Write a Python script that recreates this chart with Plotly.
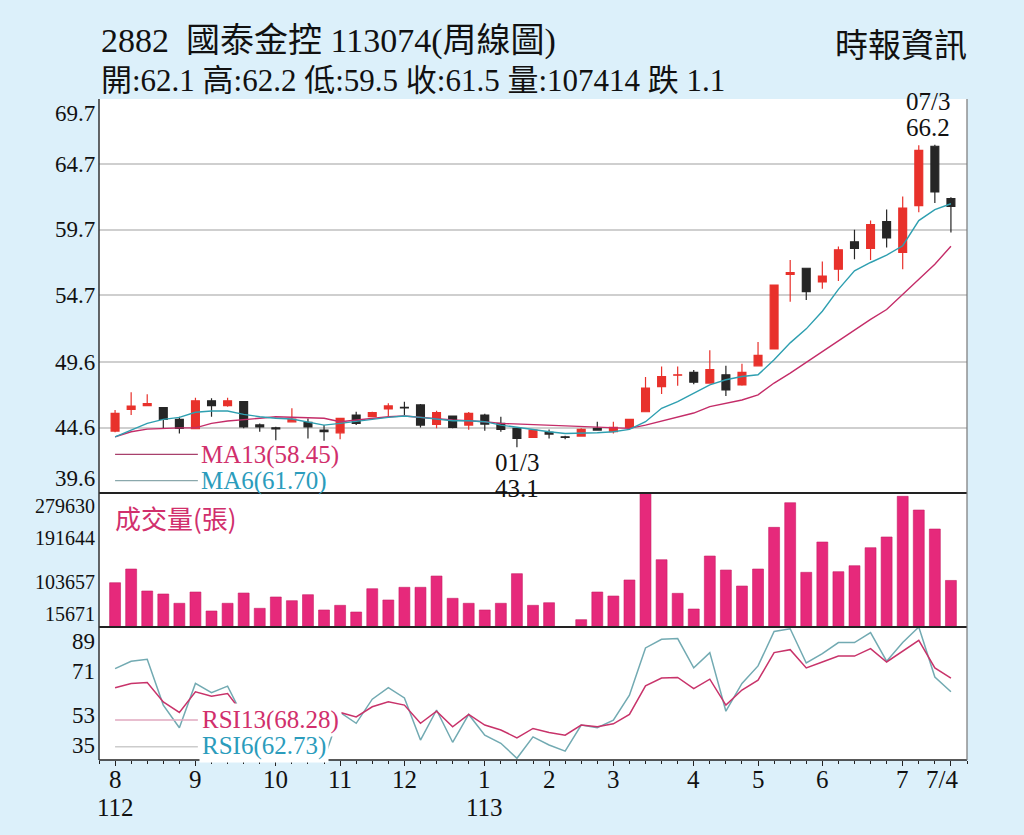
import plotly.graph_objects as go
from plotly.subplots import make_subplots

# weekly bars, oldest first (112/8 ... 113/7/4)
weeks = list(range(53))
opens = [44.33, 45.99, 46.27, 46.12, 45.23, 44.51, 46.64, 46.27, 46.58, 44.80,
         44.58, 45.04, 45.00, 44.41, 44.20, 45.56, 45.43, 46.02, 46.15, 46.33,
         44.84, 45.48, 44.79, 45.56, 44.92, 44.54, 43.85, 44.23, 43.90, 43.95,
         44.54, 44.28, 44.61, 45.81, 47.73, 48.60, 48.81, 48.00, 48.63, 47.86,
         49.32, 50.61, 56.31, 56.77, 55.72, 56.70, 58.79, 58.29, 60.33, 57.98,
         61.56, 66.09, 62.1]
highs = [45.94, 47.30, 47.15, 46.15, 45.43, 46.87, 46.84, 46.87, 46.60, 44.92,
         44.66, 46.07, 45.30, 44.80, 45.31, 45.80, 45.81, 46.46, 46.58, 46.40,
         45.89, 45.50, 45.79, 45.66, 45.43, 44.56, 44.41, 44.46, 43.97, 44.54,
         45.05, 45.05, 45.23, 48.46, 49.27, 49.27, 49.00, 50.50, 49.32, 49.47,
         51.14, 55.49, 57.41, 56.80, 57.29, 58.44, 59.71, 60.41, 61.25, 62.25,
         66.17, 66.2, 62.2]
lows = [44.25, 45.56, 46.27, 44.54, 44.15, 44.51, 45.43, 46.20, 44.54, 44.28,
        43.64, 45.04, 43.77, 43.60, 43.70, 44.80, 45.43, 45.38, 45.56, 44.60,
        44.54, 44.54, 44.44, 44.36, 44.28, 43.1, 43.85, 43.77, 43.70, 43.95,
        44.41, 44.15, 44.61, 45.81, 47.17, 47.80, 47.90, 47.99, 47.02, 47.79,
        49.27, 50.60, 54.22, 54.34, 55.21, 55.80, 57.46, 57.41, 58.36, 56.70,
        61.05, 61.76, 59.5]
closes = [45.69, 46.24, 46.43, 45.23, 44.54, 46.64, 46.27, 46.64, 44.66, 44.65,
          44.50, 45.25, 44.66, 44.28, 45.31, 44.92, 45.74, 46.25, 46.10, 44.79,
          45.74, 44.62, 45.69, 44.87, 44.46, 43.77, 44.41, 44.10, 43.85, 44.46,
          44.41, 44.61, 45.23, 47.61, 48.50, 48.63, 48.07, 49.02, 47.48, 48.81,
          50.11, 55.49, 56.44, 54.98, 56.18, 58.18, 58.29, 60.10, 59.08, 61.36,
          65.78, 62.6, 61.5]
volume = [102900, 129900, 86600, 80700, 62400, 84600, 47200, 62400, 82600, 52500,
          74800, 67500, 79300, 49200, 58400, 45200, 91100, 68900, 93900, 93900,
          116100, 72200, 62400, 49200, 62400, 120700, 58400, 63500, 12000, 30100,
          84600, 76700, 108300, 279000, 148200, 82000, 51100, 155500, 127900, 96400,
          129900, 212000, 260500, 123400, 183100, 124600, 136400, 171900, 193000, 273100,
          246100, 208700, 107414]
ma13 = [43.89, 44.28, 44.48, 44.54, 44.58, 44.58, 44.92, 45.10, 45.23, 45.31,
        45.43, 45.38, 45.38, 45.31, 45.05, 45.18, 45.31, 45.43, 45.48, 45.38,
        45.23, 45.18, 45.12, 45.05, 44.92, 44.87, 44.81, 44.77, 44.72, 44.66,
        44.62, 44.54, 44.54, 44.79, 45.10, 45.41, 45.71, 46.20, 46.46, 46.71,
        47.10, 48.00, 48.76, 49.58, 50.42, 51.27, 52.09, 52.86, 53.62, 54.78,
        55.93, 57.08, 58.45]
ma6 = [43.89, 44.41, 44.92, 45.23, 45.38, 45.77, 45.87, 45.87, 45.61, 45.43,
       45.31, 45.25, 45.00, 44.79, 44.92, 45.05, 45.23, 45.38, 45.48, 45.38,
       45.23, 45.12, 45.12, 45.05, 44.79, 44.62, 44.41, 44.28, 44.15, 44.15,
       44.20, 44.28, 44.46, 45.05, 46.07, 46.58, 47.23, 47.86, 48.25, 48.50,
       48.63, 49.78, 51.07, 52.14, 53.49, 55.16, 56.57, 57.21, 57.77, 58.49,
       60.41, 61.25, 61.70]
rsi13 = [64.3, 66.1, 66.5, 58.6, 54.3, 62.7, 60.9, 62.0, 53.5, 48.0,
         46.0, 49.0, 47.0, 45.0, 54.3, 52.5, 56.6, 58.6, 57.3, 49.9,
         54.8, 48.5, 53.5, 49.2, 47.2, 44.0, 47.8, 46.2, 45.1, 49.2,
         48.5, 49.7, 53.5, 65.1, 68.3, 68.5, 64.0, 67.8, 57.3, 63.4,
         67.4, 78.6, 79.8, 72.4, 74.8, 77.2, 77.2, 80.2, 74.8, 79.1,
         83.6, 72.4, 68.28]
rsi6 = [72.1, 75.1, 75.9, 57.3, 48.1, 66.1, 62.3, 65.0, 52.0, 44.0,
        41.0, 46.0, 42.0, 35.5, 54.3, 49.9, 59.7, 64.4, 60.2, 43.1,
        55.3, 42.2, 53.5, 45.1, 41.8, 35.7, 44.4, 41.1, 38.6, 49.2,
        48.1, 51.2, 61.3, 80.5, 84.0, 84.3, 72.4, 78.6, 54.8, 66.1,
        73.2, 87.2, 88.3, 74.4, 78.2, 82.7, 82.7, 86.7, 75.1, 82.7,
        89.0, 68.7, 62.73]

month_pos = [0, 5, 10, 14, 18, 23, 27, 31, 36, 40, 44, 49, 52]
month_text = ['8', '9', '10', '11', '12', '1', '2', '3', '4', '5', '6', '7', '7/4']
year_text = ['112', '', '', '', '', '113', '', '', '', '', '', '', '']
price_ticks = [69.7, 64.7, 59.7, 54.7, 49.6, 44.6, 39.6]
vol_ticks = [279630, 191644, 103657, 15671]
rsi_ticks = [89, 71, 53, 35]

SERIF = "Liberation Serif, 'Noto Sans CJK TC', serif"
CJK = "'Noto Sans CJK TC', 'Liberation Serif', sans-serif"
RED = '#e8312b'
BLACK = '#262626'
PINK = '#e6297b'
MAG = '#c42c68'
TEAL = '#2e9fb0'
BG = '#dcf0fa'

fig = make_subplots(rows=3, cols=1, shared_xaxes=True, vertical_spacing=0)

fig.add_trace(go.Candlestick(
    x=weeks, open=opens, high=highs, low=lows, close=closes,
    increasing=dict(line=dict(color=RED, width=1.2), fillcolor=RED),
    decreasing=dict(line=dict(color=BLACK, width=1.2), fillcolor=BLACK),
    whiskerwidth=0, showlegend=False, hoverinfo='skip'), row=1, col=1)
fig.add_trace(go.Scatter(x=weeks, y=ma13, mode='lines', line=dict(color=MAG, width=1.4),
                         showlegend=False, hoverinfo='skip'), row=1, col=1)
fig.add_trace(go.Scatter(x=weeks, y=ma6, mode='lines', line=dict(color=TEAL, width=1.4),
                         showlegend=False, hoverinfo='skip'), row=1, col=1)

fig.add_trace(go.Bar(x=weeks, y=volume, width=0.68, marker=dict(color=PINK, line=dict(color='#c81d63', width=0.6)),
                     showlegend=False, hoverinfo='skip'), row=2, col=1)

fig.add_trace(go.Scatter(x=weeks, y=rsi6, mode='lines', line=dict(color='#72aab2', width=1.5),
                         showlegend=False, hoverinfo='skip'), row=3, col=1)
fig.add_trace(go.Scatter(x=weeks, y=rsi13, mode='lines', line=dict(color='#c8336a', width=1.5),
                         showlegend=False, hoverinfo='skip'), row=3, col=1)

# panel heights (fractions of the plot area)
d1, d2 = 0.2012, 0.4039
fig.update_layout(
    width=1024, height=835,
    margin=dict(l=99, r=57, t=99, b=75),
    paper_bgcolor=BG, plot_bgcolor='white',
    yaxis=dict(domain=[d2, 1], range=[39.6, 69.7], tickvals=price_ticks, showticklabels=False,
               showgrid=True, gridcolor='#cfcfcf', gridwidth=1.5, zeroline=False, automargin=False),
    yaxis2=dict(domain=[d1, d2], range=[15671, 279630], showticklabels=False, showgrid=False,
                zeroline=False, automargin=False),
    yaxis3=dict(domain=[0, d1], range=[35, 89], showticklabels=False, showgrid=False,
                zeroline=False, automargin=False),
)
fig.update_xaxes(range=[-1, 53], showgrid=False, zeroline=False, rangeslider_visible=False,
                 automargin=False, showticklabels=False)
fig.update_xaxes(ticks='', row=1, col=1)
fig.update_xaxes(ticks='', row=2, col=1)
fig.update_xaxes(tickvals=month_pos, ticks='outside', ticklen=5, tickwidth=1.2, tickcolor='#222',
                 minor=dict(ticks='outside', ticklen=3, dtick=1, tick0=0, tickcolor='#222'),
                 row=3, col=1)

# y tick labels, pinned inside each panel at the ends
def tick_labels(vals, yref, size):
    out = []
    for k, v in enumerate(vals):
        anchor = 'top' if k == 0 else ('bottom' if k == len(vals) - 1 else 'middle')
        out.append(dict(x=0, xref='paper', xanchor='right', xshift=-2, y=v, yref=yref, yanchor=anchor,
                        text=f'{v}', showarrow=False, font=dict(family=SERIF, size=size, color='#111')))
    return out

ann = []
ann += tick_labels(price_ticks, 'y', 23)
ann += tick_labels(vol_ticks, 'y2', 20)
ann += tick_labels(rsi_ticks, 'y3', 23)

# month labels under the bottom panel, year on a second row
for k, (p, m, yr) in enumerate(zip(month_pos, month_text, year_text)):
    last = k == len(month_pos) - 1
    ann.append(dict(x=p, xref='x3', y=0, yref='paper', yanchor='top', yshift=-4,
                    xanchor='right' if last else 'center', xshift=9 if last else 0,
                    text=m, showarrow=False, font=dict(family=SERIF, size=25, color='#111')))
    if yr:
        ann.append(dict(x=p, xref='x3', y=0, yref='paper', yanchor='top', yshift=-32,
                        text=yr, showarrow=False, font=dict(family=SERIF, size=25, color='#111')))

def label(text, x, y, xref, yref, size, color, family=SERIF, **kw):
    return dict(text=text, x=x, y=y, xref=xref, yref=yref, showarrow=False,
                font=dict(family=family, size=size, color=color), **kw)

ann += [
    label('2882  國泰金控 113074(周線圖)', 0.0, 1.0877, 'paper', 'paper', 34, '#111',
          xanchor='left', yanchor='middle'),
    label('開:62.1 高:62.2 低:59.5 收:61.5 量:107414 跌 1.1', 0.0, 1.0287, 'paper', 'paper', 31, '#111',
          xanchor='left', yanchor='middle'),
    label('時報資訊', 1.002, 1.080, 'paper', 'paper', 33, '#111', xanchor='right', yanchor='middle'),
    label('MA13(58.45)', 5.2, 42.5, 'x', 'y', 25, '#d12f6c', xanchor='left', yanchor='middle'),
    label('MA6(61.70)', 5.2, 40.5, 'x', 'y', 25, '#2b9cbc', xanchor='left', yanchor='middle'),
    label('01/3', 25, 43.1, 'x', 'y', 25, '#111', yanchor='top', yshift=0),
    label('43.1', 25, 43.1, 'x', 'y', 25, '#111', yanchor='top', yshift=-26),
    label('66.2', 51, 66.2, 'x', 'y', 25, '#111', yanchor='bottom', yshift=2, xshift=-7),
    label('07/3', 51, 66.2, 'x', 'y', 25, '#111', yanchor='bottom', yshift=28, xshift=-7),
    label('成交量(張)', -0.1, 272000, 'x', 'y2', 26, '#d12f6c', family=CJK, xanchor='left', yanchor='top'),
    label('RSI13(68.28)', 5.2, 51.2, 'x', 'y3', 25, '#d12f6c', xanchor='left', yanchor='middle',
          bgcolor='white', borderpad=2),
    label('RSI6(62.73)', 5.2, 40.6, 'x', 'y3', 25, '#2b9cbc', xanchor='left', yanchor='middle',
          bgcolor='white', borderpad=2),
]
fig.update_layout(annotations=ann)

shapes = [
    # legend leader lines
    dict(type='line', xref='x', yref='y', x0=0, x1=5.15, y0=42.55, y1=42.55, line=dict(color='#a8406c', width=1.2)),
    dict(type='line', xref='x', yref='y', x0=0, x1=5.15, y0=40.55, y1=40.55, line=dict(color='#8aa8ac', width=1.2)),
    dict(type='line', xref='x', yref='y3', x0=0, x1=5.15, y0=51.2, y1=51.2, line=dict(color='#e0a8bf', width=1.5)),
    dict(type='line', xref='x', yref='y3', x0=0, x1=5.15, y0=40.4, y1=40.4, line=dict(color='#cccccc', width=1.5)),
    # panel borders
    dict(type='line', xref='paper', yref='paper', x0=0, x1=1, y0=d2, y1=d2, line=dict(color='#222', width=2)),
    dict(type='line', xref='paper', yref='paper', x0=0, x1=1, y0=d1, y1=d1, line=dict(color='#222', width=2)),
    dict(type='line', xref='paper', yref='paper', x0=0, x1=1, y0=0, y1=0, line=dict(color='#222', width=1.5)),
    dict(type='line', xref='paper', yref='paper', x0=0, x1=0, y0=0, y1=1, line=dict(color='#333', width=1.5)),
    dict(type='line', xref='paper', yref='paper', x0=1, x1=1, y0=0, y1=1, line=dict(color='#777', width=1.2)),
]
fig.update_layout(shapes=shapes)

fig.write_html("out.html", config={'displayModeBar': False},
               post_script="document.body.style.margin='0';")
